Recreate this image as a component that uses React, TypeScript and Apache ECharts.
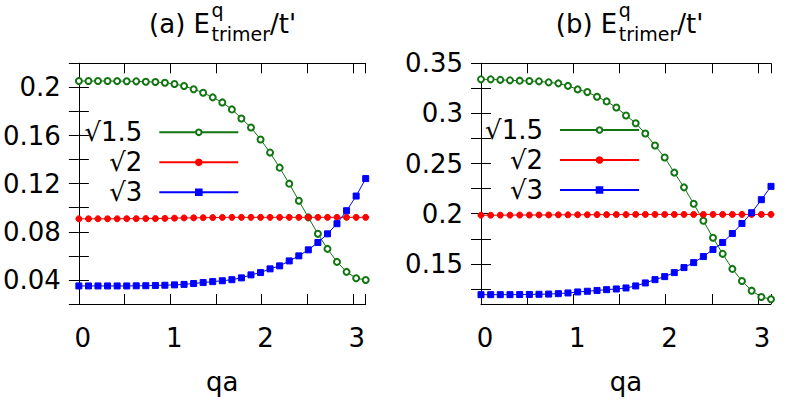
import React, { useEffect, useRef } from 'react';
import * as echarts from 'echarts';

// qa sampling points (0 .. pi, 31 points)
const qa = [
  0, 0.105, 0.209, 0.314, 0.419, 0.524, 0.628, 0.733, 0.838, 0.942, 1.047,
  1.152, 1.257, 1.361, 1.466, 1.571, 1.676, 1.78, 1.885, 1.99, 2.094, 2.199,
  2.304, 2.409, 2.513, 2.618, 2.723, 2.827, 2.932, 3.037, 3.1416,
];

// panel (a)
const aSqrt15 = [
  0.2053, 0.2053, 0.2053, 0.2053, 0.2052, 0.2051, 0.205, 0.2047, 0.2044, 0.2039,
  0.2028, 0.2011, 0.1985, 0.1955, 0.1917, 0.1875, 0.1817, 0.1742, 0.1667, 0.1567,
  0.1458, 0.1333, 0.12, 0.1058, 0.092, 0.0783, 0.0658, 0.055, 0.0467, 0.0414, 0.04,
];
const aSqrt2 = [
  0.0908, 0.0908, 0.0908, 0.0908, 0.0908, 0.0909, 0.0909, 0.091, 0.091, 0.0911,
  0.0913, 0.0915, 0.0916, 0.0917, 0.0918, 0.0919, 0.092, 0.092, 0.092, 0.092,
  0.092, 0.092, 0.092, 0.092, 0.092, 0.092, 0.092, 0.092, 0.092, 0.092, 0.092,
];
const aSqrt3 = [
  0.035, 0.035, 0.035, 0.035, 0.035, 0.035, 0.0351, 0.0352, 0.0354, 0.0356,
  0.0359, 0.0363, 0.037, 0.0378, 0.0386, 0.0393, 0.0402, 0.0417, 0.0442, 0.0461,
  0.0492, 0.0517, 0.0558, 0.06, 0.065, 0.0711, 0.0783, 0.0867, 0.0975, 0.1097, 0.1242,
];

// panel (b)
const bSqrt15 = [
  0.334, 0.334, 0.3335, 0.333, 0.3327, 0.3323, 0.332, 0.331, 0.33, 0.3275,
  0.324, 0.3213, 0.3167, 0.312, 0.306, 0.298, 0.2903, 0.28, 0.268, 0.256,
  0.241, 0.2263, 0.21, 0.193, 0.176, 0.16, 0.145, 0.133, 0.1233, 0.117, 0.1147,
];
const bSqrt2 = [
  0.1985, 0.1985, 0.1986, 0.1986, 0.1987, 0.1987, 0.1988, 0.1988, 0.1989, 0.1989,
  0.199, 0.199, 0.1991, 0.1991, 0.1992, 0.1992, 0.1993, 0.1993, 0.1993, 0.1993,
  0.1993, 0.1993, 0.1993, 0.1993, 0.1993, 0.1993, 0.1993, 0.1993, 0.1993, 0.1993, 0.1993,
];
const bSqrt3 = [
  0.1193, 0.1193, 0.1193, 0.1193, 0.1194, 0.1195, 0.1197, 0.1199, 0.1203, 0.121,
  0.122, 0.1227, 0.1235, 0.1243, 0.125, 0.126, 0.128, 0.131, 0.1343, 0.1373,
  0.1413, 0.1463, 0.1513, 0.1573, 0.1643, 0.1713, 0.1803, 0.1903, 0.201, 0.214, 0.2273,
];

const legendLabels = ['√1.5', '√2', '√3'];
const colors = ['#117511', '#ff0000', '#0000ff'];
const symbols = ['emptyCircle', 'circle', 'rect'];
const bYTickValues = [0.125, 0.15, 0.175, 0.2, 0.225, 0.25, 0.275, 0.3, 0.325, 0.35];
const bYLabelValues = [0.15, 0.2, 0.25, 0.3, 0.35];

const FONT = '"DejaVu Sans"';

function measure(text: string, size: number): number {
  const c = document.createElement('canvas').getContext('2d');
  if (!c) return text.length * size * 0.6;
  c.font = `${size}px ${FONT}`;
  return c.measureText(text).width;
}

export default function App() {
  const ref = useRef<HTMLDivElement>(null);
  useEffect(() => {
    if (!ref.current) return;
    const chart = echarts.init(ref.current, undefined, { renderer: 'svg' });

    const lineBlack = { show: true, lineStyle: { color: '#000', width: 1 } };
    const tickIn = (extra: any = {}) => ({
      show: true,
      inside: true,
      length: 10,
      lineStyle: { color: '#000', width: 1 },
      ...extra,
    });

    const xLabel = {
      fontSize: 26,
      fontFamily: FONT,
      color: '#000',
      margin: 21,
      padding: [0, 0, 0, 8],
      formatter: (v: number) => (Math.abs(v - Math.round(v)) < 1e-6 ? String(Math.round(v)) : ''),
    };

    const mkX = (grid: number) => [
      {
        type: 'value', gridIndex: grid, min: 0, max: 3.1416, interval: 0.5, position: 'bottom',
        axisLine: lineBlack, axisTick: tickIn(), splitLine: { show: false },
        axisLabel: xLabel,
        name: 'qa', nameLocation: 'middle', nameGap: 65,
        nameTextStyle: { fontSize: 26, fontFamily: FONT, color: '#000' },
      },
      {
        type: 'value', gridIndex: grid, min: 0, max: 3.1416, interval: 0.5, position: 'top',
        axisLine: lineBlack, axisTick: tickIn(), splitLine: { show: false },
        axisLabel: { show: false },
      },
    ];

    const yLabelStyle = { fontSize: 26, fontFamily: FONT, color: '#000', margin: 18, padding: [11, 0, 0, 0] };

    const yAxes = [
      {
        type: 'value', gridIndex: 0, min: 0.02, max: 0.22, interval: 0.02, position: 'left',
        axisLine: lineBlack, axisTick: tickIn(), splitLine: { show: false },
        axisLabel: {
          ...yLabelStyle,
          formatter: (v: number) => (Math.round(v * 100) % 4 === 0 ? String(+v.toFixed(2)) : ''),
        },
      },
      {
        type: 'value', gridIndex: 0, min: 0.02, max: 0.22, interval: 0.02, position: 'right',
        axisLine: lineBlack, axisTick: tickIn(), splitLine: { show: false }, axisLabel: { show: false },
      },
      {
        type: 'value', gridIndex: 1, min: 0.11, max: 0.35, position: 'left',
        axisLine: lineBlack, axisTick: tickIn({ customValues: bYTickValues }), splitLine: { show: false },
        axisLabel: { ...yLabelStyle, customValues: bYLabelValues, formatter: (v: number) => String(+v.toFixed(3)) },
      },
      {
        type: 'value', gridIndex: 1, min: 0.11, max: 0.35, position: 'right',
        axisLine: lineBlack, axisTick: tickIn({ customValues: bYTickValues }), splitLine: { show: false },
        axisLabel: { show: false },
      },
    ];

    const mkSeries = (prefix: string, grid: number, sets: number[][]) =>
      sets.map((vals, k) => ({
        name: prefix + k,
        type: 'line',
        xAxisIndex: grid * 2,
        yAxisIndex: grid * 2,
        data: vals.map((v, i) => [qa[i], v]),
        symbol: symbols[k],
        symbolSize: 6,
        showAllSymbol: true,
        lineStyle: { color: colors[k], width: 1 },
        itemStyle: { color: colors[k], borderColor: colors[k], borderWidth: 1 },
        z: 2 + k,
      }));

    const mkLegend = (prefix: string, right: number, top: number) => ({
      data: [prefix + '0', prefix + '1', prefix + '2'],
      formatter: (n: string) => legendLabels[Number(n.slice(1))],
      orient: 'vertical',
      align: 'right',
      right,
      top,
      padding: 0,
      itemGap: 0,
      itemWidth: 79,
      itemHeight: 7,
      selectedMode: false,
      textStyle: { fontSize: 26, fontFamily: FONT, color: '#000', lineHeight: 20, padding: [10, 12, 0, 0] },
    });

    const titleEls = (label: string, eEnd: number) => {
      const mainSize = 26;
      const subSize = 19;
      const wTrimer = measure('trimer', subSize);
      const x0 = eEnd + 1.5;
      return [
        { type: 'text', style: { text: label, x: eEnd, y: 23.5, align: 'right', verticalAlign: 'middle', font: `${mainSize}px ${FONT}`, fill: '#000' } },
        { type: 'text', style: { text: 'q', x: x0, y: 10, align: 'left', verticalAlign: 'middle', font: `${subSize}px ${FONT}`, fill: '#000' } },
        { type: 'text', style: { text: 'trimer', x: x0, y: 34.3, align: 'left', verticalAlign: 'middle', font: `${subSize}px ${FONT}`, fill: '#000' } },
        { type: 'text', style: { text: "/t'", x: x0 + wTrimer, y: 23.5, align: 'left', verticalAlign: 'middle', font: `${mainSize}px ${FONT}`, fill: '#000' } },
      ];
    };

    chart.setOption({
      animation: false,
      backgroundColor: '#fff',
      grid: [
        { left: 75.7, right: 434.3, top: 63.3, bottom: 96 },
        { left: 481, right: 29, top: 63.3, bottom: 96 },
      ],
      xAxis: [...mkX(0), ...mkX(1)],
      yAxis: yAxes,
      legend: [mkLegend('a', 560.7, 117.3), mkLegend('b', 160, 115)],
      series: [
        ...mkSeries('a', 0, [aSqrt15, aSqrt2, aSqrt3]),
        ...mkSeries('b', 1, [bSqrt15, bSqrt2, bSqrt3]),
      ],
      graphic: [...titleEls('(a) E', 210), ...titleEls('(b) E', 617.3)],
    });

    return () => chart.dispose();
  }, []);

  return (
    <div
      ref={ref}
      style={{ position: 'absolute', left: 0, top: 0, width: 800, height: 400, background: '#fff' }}
    />
  );
}
